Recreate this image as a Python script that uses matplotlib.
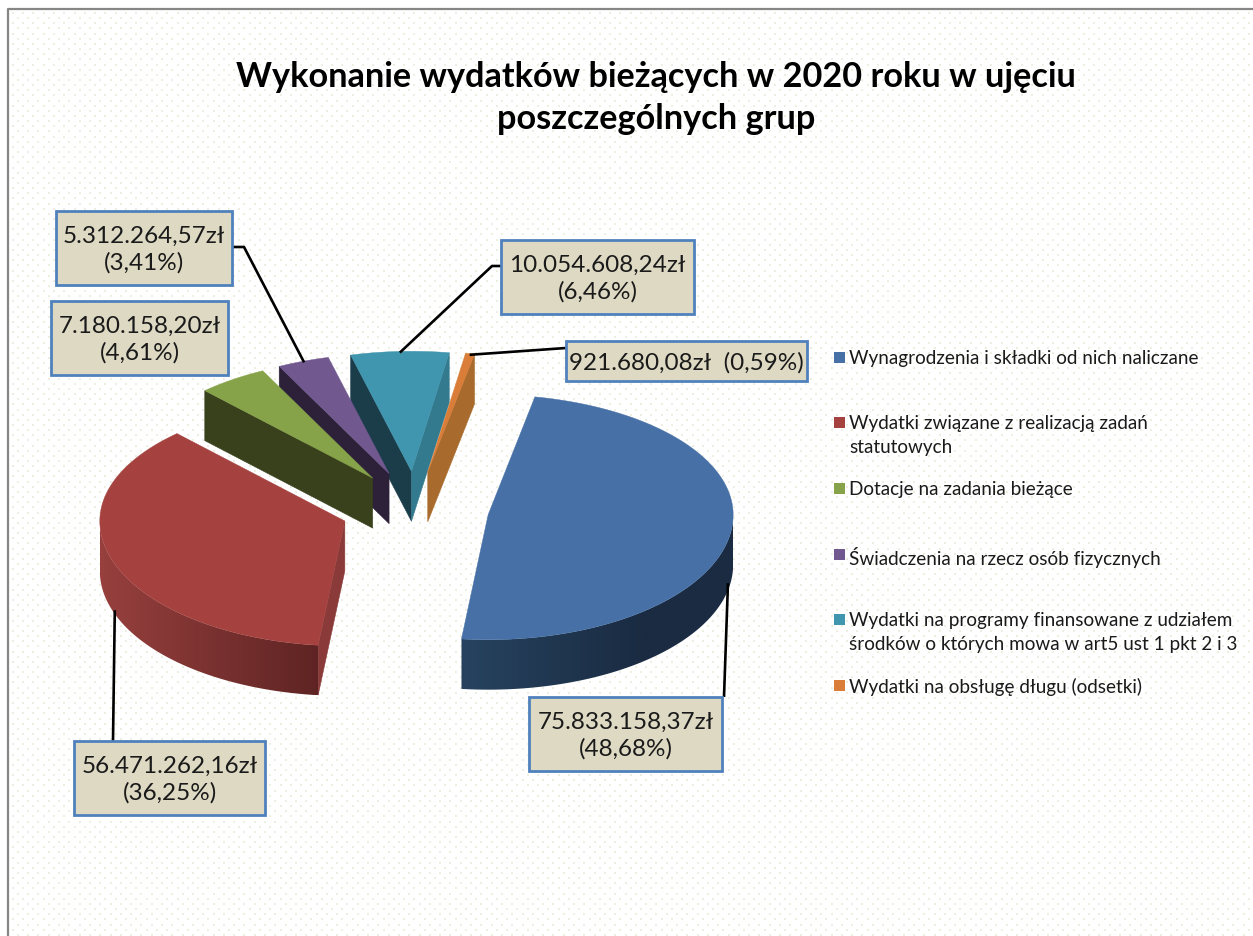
import matplotlib
matplotlib.use('Agg')
import matplotlib.pyplot as plt
import numpy as np
from matplotlib.colors import to_rgb
from matplotlib.patches import Polygon, Rectangle

categories = ["Wynagrodzenia i składki od nich naliczane",
              "Wydatki związane z realizacją zadań\nstatutowych",
              "Dotacje na zadania bieżące",
              "Świadczenia na rzecz osób fizycznych",
              "Wydatki na programy finansowane z udziałem\nśrodków o których mowa w art5 ust 1 pkt 2 i 3",
              "Wydatki na obsługę długu (odsetki)"]
values = [75833158.37, 56471262.16, 7180158.20, 5312264.57, 10054608.24, 921680.08]
labels = ["75.833.158,37zł\n(48,68%)", "56.471.262,16zł\n(36,25%)", "7.180.158,20zł\n(4,61%)",
          "5.312.264,57zł\n(3,41%)", "10.054.608,24zł\n(6,46%)", "921.680,08zł  (0,59%)"]
title = "Wykonanie wydatków bieżących w 2020 roku w ujęciu\nposzczególnych grup"

top_colors = ["#4670A6", "#A5423F", "#87A34A", "#71588F", "#4095AF", "#D97D38"]
start_face = ["#2F5480", "#8A3A38", "#38401C", "#2C2138", "#1B3D4A", "#A96B2D"]
end_face = ["#2F5480", "#8A3A38", "#6B8238", "#5A4672", "#337A8E", "#A96B2D"]
# wall gradient, left colour then right colour
wall_left = ["#27435F", "#97403E", "#38401C", "#2C2138", "#1B3D4A", "#A96B2D"]
wall_right = ["#1A2B42", "#5E2423", "#38401C", "#2C2138", "#1B3D4A", "#A96B2D"]

boxes = [(529, 698, 193, 74), (74, 742, 191, 74), (51, 302, 177, 74),
         (56, 212, 176, 74), (501, 241, 193, 74), (566, 342, 241, 40)]
legend_y = [358, 423, 489, 555, 620, 686]

cx, cy = 415, 510
rx = 245
ry_front, ry_back = 125, 120
explode = 74
depth = 50
first_angle = 11


def rim(a, r=1.0):
    a = np.radians(a)
    c = np.cos(a)
    return r * rx * np.sin(a), -r * np.where(c > 0, ry_back, ry_front) * c


fig = plt.figure(figsize=(12.53, 9.37), dpi=100)
ax = fig.add_axes([0, 0, 1, 1])
plt.rcParams['font.family'] = ['Lato', 'DejaVu Sans']

# dotted chart area
xs, ys = [], []
for i, y in enumerate(np.arange(14, 937, 5.15)):
    row = np.arange(12.7 + (i % 2) * 5.15, 1253, 10.3)
    xs.extend(row)
    ys.extend([y] * len(row))
ax.scatter(xs, ys, s=2.2, marker='s', color='#EFEFE1', linewidths=0, zorder=1)
ax.plot([8, 8, 1253], [937, 10, 10], color='#868686', lw=1.6, zorder=2)

ax.text(656, 98, title, ha='center', va='center', fontsize=24.7, fontweight='bold',
        color='black', linespacing=1.42, zorder=6)

fractions = np.array(values) / np.sum(values)
spans = fractions * 360
starts = first_angle + np.concatenate([[0], np.cumsum(spans)[:-1]])
ends = starts + spans
mids = (starts + ends) / 2


def apex_of(i):
    m = np.radians(mids[i])
    return cx + explode * np.sin(m), cy - explode * ry_front / rx * np.cos(m)


def draw_wall(i, x0, y0):
    angles = np.linspace(starts[i], ends[i], 200)
    angles = angles[np.cos(np.radians(angles)) < 0]
    if len(angles) < 2:
        return
    px, py = rim(angles)
    px, py = x0 + px, y0 + py
    pts = np.column_stack([np.r_[px, px[::-1]], np.r_[py, py[::-1] + depth]])
    clip = Polygon(pts, closed=True, transform=ax.transData, fc='none', ec='none')
    ax.add_patch(clip)
    left, right = np.array(to_rgb(wall_left[i])), np.array(to_rgb(wall_right[i]))
    t = np.clip(np.linspace(0, 1.5 if i == 0 else 1, 256), 0, 1)
    grad = left + (right - left) * t[:, None]
    im = ax.imshow(grad[None, :, :], extent=(px.min(), px.max(), py.max() + depth, py.min()),
                   aspect='auto', zorder=3, interpolation='bilinear')
    im.set_clip_path(clip)


def draw_slice(i):
    x0, y0 = apex_of(i)
    # radial faces, only those turned toward the viewer
    for edge, sign, col in [(starts[i], -1, start_face[i]), (ends[i], 1, end_face[i])]:
        if np.cos(np.radians(edge + sign * 90)) < 0:
            ex, ey = rim(edge)
            ax.fill([x0, x0 + ex, x0 + ex, x0], [y0, y0 + ey, y0 + ey + depth, y0 + depth],
                    color=col, lw=0.4, zorder=3)
    draw_wall(i, x0, y0)
    px, py = rim(np.linspace(starts[i], ends[i], 120))
    ax.fill(np.r_[x0, x0 + px], np.r_[y0, y0 + py], color=top_colors[i], lw=0.3, zorder=3)


# back slices first
for i in [4, 5, 3, 2, 1, 0]:
    draw_slice(i)


def leader(points):
    px, py = zip(*points)
    ax.plot(px, py, color='black', lw=1.9, zorder=4, solid_capstyle='butt')


def anchor(i, on_wall=False):
    x0, y0 = apex_of(i)
    x, y = rim(mids[i], 0.99)
    return x0 + x, y0 + y + (depth if on_wall else 0)


leader([(724, 698), anchor(0, True)])
leader([(113, 742), anchor(1, True)])
leader([(232, 248), (244, 248), anchor(3)])
leader([(501, 267), (492, 267), anchor(4)])
leader([(566, 349), anchor(5)])

for (x, y, w, h), text in zip(boxes, labels):
    ax.add_patch(Rectangle((x, y), w, h, fc='#DDD9C3', ec='#4F81BD', lw=2, zorder=5))
    ax.text(x + w / 2, y + h / 2 + 0.5, text, ha='center', va='center', fontsize=17.5,
            color='#1A1A1A', linespacing=1.32, zorder=6)

for name, col, y in zip(categories, top_colors, legend_y):
    ax.add_patch(Rectangle((834, y - 5.5), 11, 11, fc=col, ec='none', zorder=5))
    ax.text(849, y - 8, name, ha='left', va='top', fontsize=13.6, color='#1A1A1A',
            linespacing=1.52, zorder=6)

ax.set_xlim(0, 1253)
ax.set_ylim(937, 0)
ax.axis('off')
fig.savefig('out.png', dpi=100)
